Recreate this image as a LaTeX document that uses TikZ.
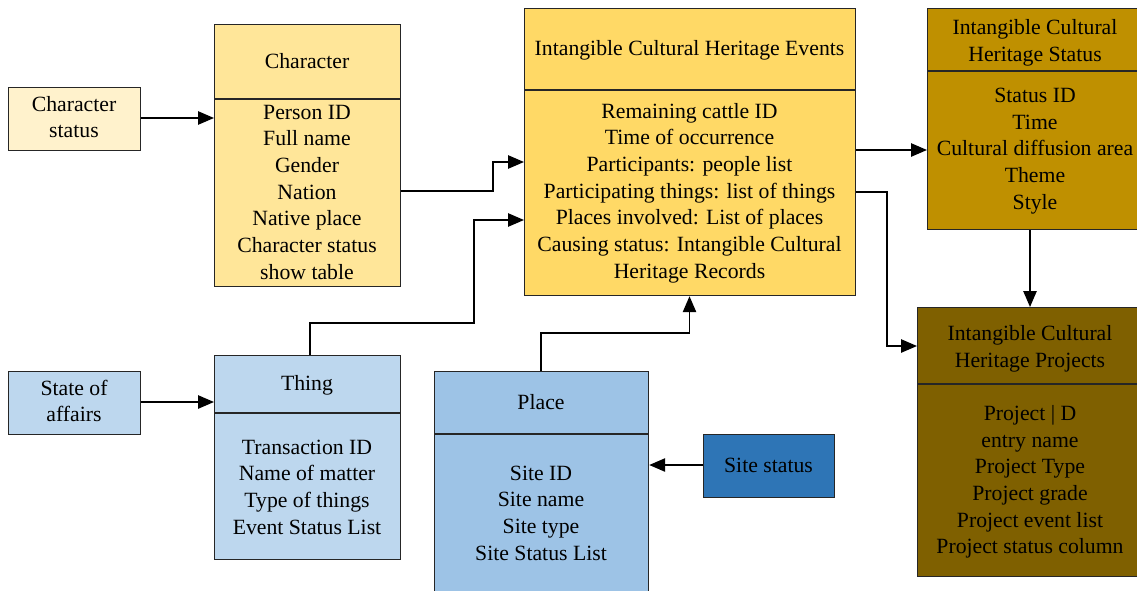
\documentclass[tikz,border=0pt]{standalone}
\usepackage{fontspec}
\setmainfont{Liberation Serif}
\usetikzlibrary{arrows.meta}
\definecolor{cCS}{HTML}{FFF2CC}
\definecolor{cCH}{HTML}{FFE699}
\definecolor{cEV}{HTML}{FFD966}
\definecolor{cST}{HTML}{BF9000}
\definecolor{cPR}{HTML}{7F6000}
\definecolor{cTH}{HTML}{BDD7EE}
\definecolor{cPL}{HTML}{9DC3E6}
\definecolor{cSS}{HTML}{2E75B6}
\tikzset{
  boxst/.style={draw=black!85, line width=0.9pt, inner sep=0pt},
  box/.style n args={3}{boxst, fill=#1, minimum width=#2*0.75pt, minimum height=#3*0.75pt, anchor=north west},
  txt/.style={align=center, inner sep=0pt, font=\fontsize{16.3}{20}\selectfont},
  arr/.style={line width=1.2pt, -{Triangle[length=12pt,width=10pt]}},
}
\begin{document}
\begin{tikzpicture}[x=0.75pt,y=-0.75pt]
\useasboundingbox (0,0) rectangle (1137,590);
\clip (0,0) rectangle (1137,590);
% boxes
\node[box={cCS}{132}{63}] (cs) at (8,87) {};
\node[box={cCH}{186}{262}] (ch) at (214,24) {};
\node[box={cEV}{331}{287}] (ev) at (524,8) {};
\node[box={cST}{216}{221}] (st) at (927,8) {};
\node[box={cPR}{226}{269}] (pr) at (917,307) {};
\node[box={cTH}{132}{63}] (sa) at (8,371) {};
\node[box={cTH}{186}{204}] (th) at (214,355) {};
\node[box={cPL}{214}{240}] (pl) at (434,371) {};
\node[box={cSS}{131}{63}] (ss) at (703,434) {};
% dividers
\draw[boxst] (ch.west |- 0,99) -- (ch.east |- 0,99);
\draw[boxst] (ev.west |- 0,90) -- (ev.east |- 0,90);
\draw[boxst] (st.west |- 0,71) -- (st.east |- 0,71);
\draw[boxst] (pr.west |- 0,384) -- (pr.east |- 0,384);
\draw[boxst] (th.west |- 0,413) -- (th.east |- 0,413);
\draw[boxst] (pl.west |- 0,434) -- (pl.east |- 0,434);
% texts
\node[txt] (cst) at (74,117) {Character\\status};
\node[txt] (sat) at (74,401) {State of\\affairs};
\node[txt] (sst) at (768.5,465) {Site status};
\node[txt] (cht) at (307,61) {Character};
\node[txt] (chf) at (307,192) {Person ID\\Full name\\Gender\\Nation\\Native place\\Character status\\show table};
\node[txt] (evt) at (689.5,50) {Intangible Cultural Heritage Events};
\node[txt] (evf) at (689.5,193) {Remaining cattle ID\\Time of occurrence\\Participants: people list\\Participating things: list of things\\Places involved: List of places\\Causing status: Intangible Cultural\\Heritage Records};
\node[txt] (stt) at (1035,42.5) {Intangible Cultural\\Heritage Status};
\node[txt] (stf) at (1035,151) {Status ID\\Time\\Cultural diffusion area\\Theme\\Style};
\node[txt] (prt) at (1030,348.5) {Intangible Cultural\\Heritage Projects};
\node[txt] (prf) at (1030,482) {Project | D\\entry name\\Project Type\\Project grade\\Project event list\\Project status column};
\node[txt] (tht) at (307,385) {Thing};
\node[txt] (thf) at (307,487) {Transaction ID\\Name of matter\\Type of things\\Event Status List};
\node[txt] (plt) at (541,402) {Place};
\node[txt] (plf) at (541,513) {Site ID\\Site name\\Site type\\Site Status List};
% connectors
\coordinate (k1) at (493,191);
\coordinate (k2) at (493,162);
\coordinate (t1) at (310,323);
\coordinate (t2) at (474,323);
\coordinate (t3) at (474,220);
\coordinate (p1) at (541,333);
\coordinate (p2) at (689.5,333);
\coordinate (e1) at (887,192);
\coordinate (e2) at (887,346);
\draw[arr] (cs.east |- 0,118) -- (ch.west |- 0,118);
\draw[arr] (sa.east |- 0,402) -- (th.west |- 0,402);
\draw[arr] (ss.west |- 0,465) -- (pl.east |- 0,465);
\draw[arr] (ch.east |- k1) -- (k1) -- (k2) -- (ev.west |- k2);
\draw[arr] (th.north -| t1) -- (t1) -- (t2) -- (t3) -- (ev.west |- t3);
\draw[arr] (pl.north -| p1) -- (p1) -- (p2) -- (ev.south -| p2);
\draw[arr] (ev.east |- 0,150) -- (st.west |- 0,150);
\draw[arr] (ev.east |- e1) -- (e1) -- (e2) -- (pr.west |- e2);
\draw[arr] (st.south -| 1030,0) -- (pr.north -| 1030,0);
\end{tikzpicture}
\end{document}
